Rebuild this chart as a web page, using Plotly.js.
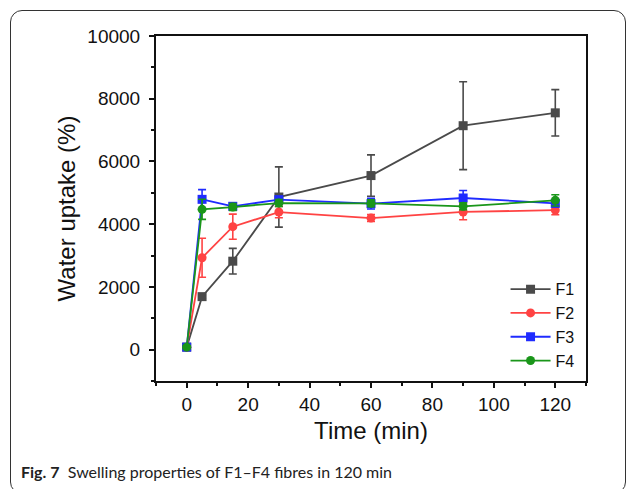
<!DOCTYPE html>
<html>
<head>
<meta charset="utf-8">
<script src="https://cdn.plot.ly/plotly-3.0.1.min.js"></script>
<style>
html,body{margin:0;padding:0;background:#fff;overflow:hidden;}
#frame{position:absolute;left:10px;top:10px;width:616px;height:484px;border:1px solid #333;border-radius:12px;box-sizing:border-box;}
#chart{position:absolute;left:0;top:0;width:629px;height:489px;}
</style>
</head>
<body>
<div id="frame"></div>
<div id="chart"></div>
<script>
const time = [0, 5, 15, 30, 60, 90, 120];
const seriesNames = ["F1", "F2", "F3", "F4"];
const F1 = [80, 1690, 2820, 4866, 5550, 7140, 7550];
const F1err = [40, 60, 410, 960, 660, 1400, 740];
const F2 = [80, 2930, 3920, 4387, 4195, 4390, 4450];
const F2err = [40, 620, 400, 180, 110, 250, 150];
const F3 = [80, 4792, 4570, 4782, 4654, 4835, 4665];
const F3err = [40, 310, 110, 80, 170, 240, 110];
const F4 = [80, 4473, 4547, 4674, 4665, 4569, 4760];
const F4err = [40, 320, 110, 110, 110, 110, 180];
const xTicks = [0, 20, 40, 60, 80, 100, 120];
const yTicks = [0, 2000, 4000, 6000, 8000, 10000];

const values = [F1, F2, F3, F4];
const errs = [F1err, F2err, F3err, F4err];
const colors = ["#4a4a4a", "#ff4343", "#1f2bff", "#1a961a"];
const symbols = ["square", "circle", "square", "circle"];

const traces = seriesNames.map((n, i) => ({
  x: time, y: values[i], name: n, type: "scatter", mode: "lines+markers",
  line: {color: colors[i], width: 1.8},
  marker: {color: colors[i], symbol: symbols[i], size: 9},
  error_y: {type: "data", array: errs[i], visible: true, color: colors[i], thickness: 1.6, width: 4}
}));

const font = "Arial, 'Liberation Sans', Helvetica, sans-serif";
const layout = {
  width: 629, height: 489,
  margin: {l: 156, r: 43, t: 36, b: 108},
  paper_bgcolor: "rgba(0,0,0,0)", plot_bgcolor: "#fff",
  showlegend: true,
  legend: {x: 0.985, y: 0.008, xanchor: "right", yanchor: "bottom", bgcolor: "rgba(0,0,0,0)",
    font: {family: font, size: 16, color: "#111"}, itemwidth: 40, tracegroupgap: 0},
  xaxis: {range: [-10, 130], tickvals: xTicks, ticktext: xTicks.map(String),
    ticks: "outside", ticklen: 5, tickwidth: 2, tickcolor: "#111",
    minor: {dtick: 10, tick0: 0, ticks: "outside", ticklen: 3, tickwidth: 2, tickcolor: "#111"},
    showline: true, linewidth: 2, linecolor: "#111", mirror: true, showgrid: false, zeroline: false,
    tickfont: {family: font, size: 19, color: "#111"},
    title: {text: "Time (min)", font: {family: font, size: 24, color: "#111"}, standoff: 8}},
  yaxis: {range: [-1000, 10000], tickvals: yTicks, ticktext: yTicks.map(String),
    ticks: "outside", ticklen: 5, tickwidth: 2, tickcolor: "#111", ticklabelstandoff: 5,
    minor: {dtick: 1000, tick0: 0, ticks: "outside", ticklen: 3, tickwidth: 2, tickcolor: "#111"},
    showline: true, linewidth: 2, linecolor: "#111", mirror: true, showgrid: false, zeroline: false,
    tickfont: {family: font, size: 19, color: "#111"},
    title: {text: "Water uptake (%)", font: {family: font, size: 24, color: "#111"}, standoff: 5}},
  annotations: [{
    xref: "paper", yref: "paper", x: -0.318, y: -0.261, xanchor: "left", yanchor: "middle",
    showarrow: false, align: "left",
    text: "<b>Fig. 7</b>  Swelling properties of F1–F4 fibres in 120 min",
    font: {family: "Lato, 'Open Sans', sans-serif", size: 16, color: "#222"}
  }]
};
Plotly.newPlot("chart", traces, layout, {displayModeBar: false, staticPlot: true});
</script>
</body>
</html>
